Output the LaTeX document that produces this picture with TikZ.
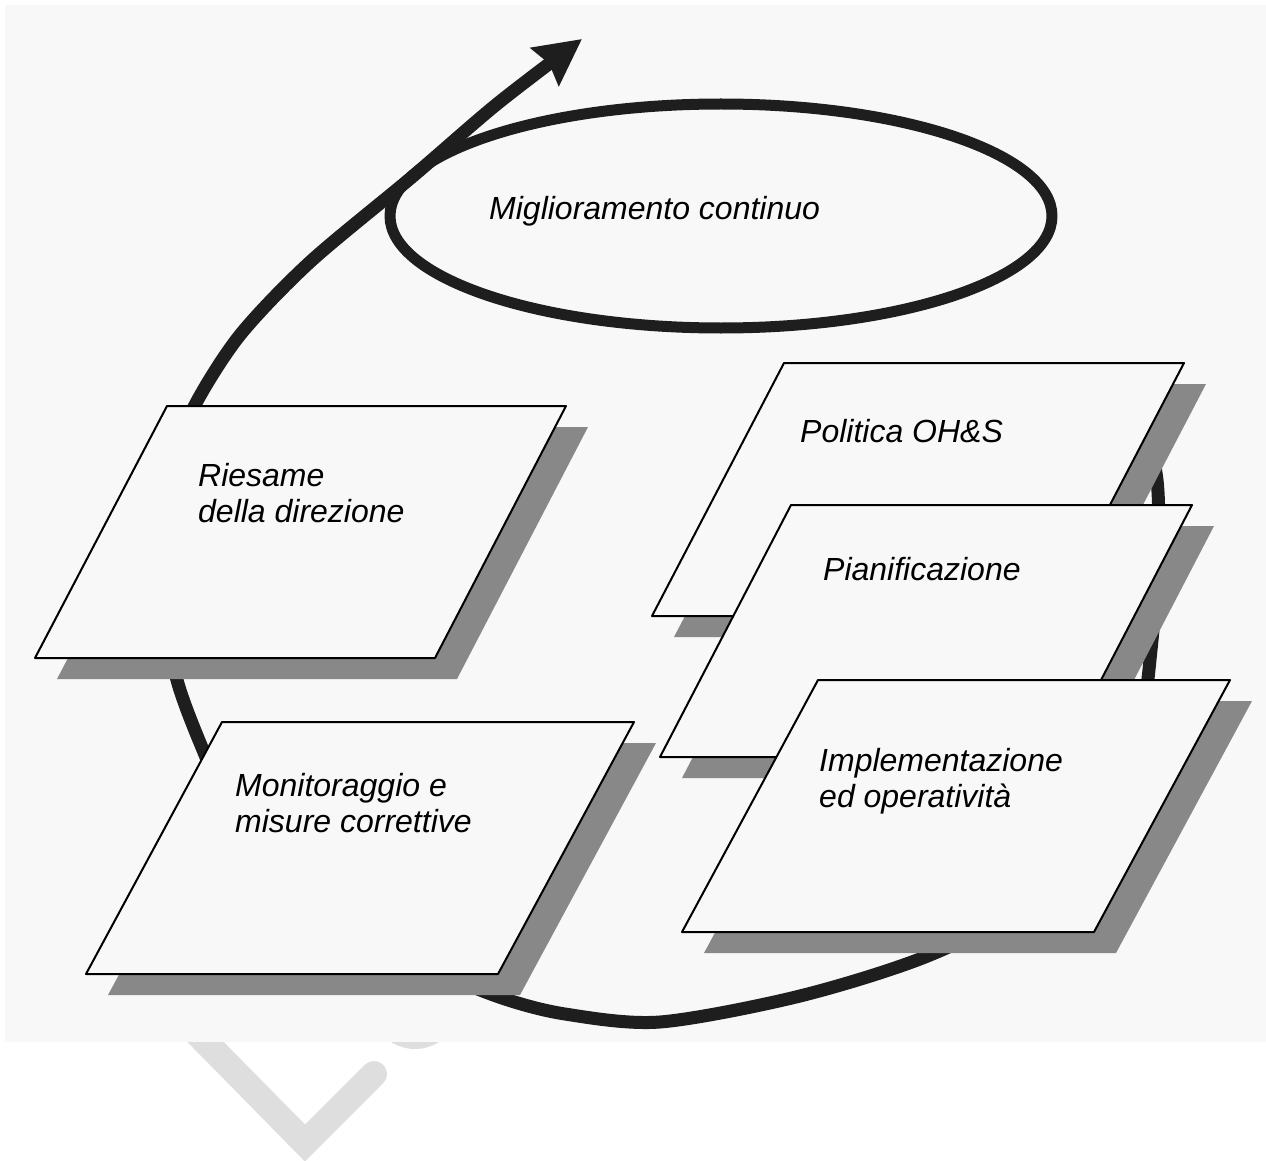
\documentclass[tikz,border=0pt]{standalone}
\usepackage{tikz}
\usetikzlibrary{arrows.meta}
\usepackage{fontspec}
\setmainfont{Liberation Sans}
\definecolor{sfondo}{HTML}{F8F8F8}
\definecolor{grigioombra}{HTML}{888888}
\definecolor{filigrana}{HTML}{DEDEDE}
\definecolor{tratto}{HTML}{1E1E1E}

\begin{document}
\begin{tikzpicture}[x=1pt, y=-1pt, line join=round]  % coordinates in px, y downwards
  \tikzstyle{etichetta}=[inner sep=0pt, anchor=base west, align=left, font=\fontsize{32}{36}\selectfont\itshape]
  \tikzstyle{foglio}=[fill=sfondo, draw=black, line width=2pt,
      preaction={fill=grigioombra, transform canvas={xshift=22pt, yshift=-21pt}}]
  \tikzstyle{ciclo}=[draw=tratto, line width=13pt]
  \useasboundingbox (0,0) rectangle (1266,1161);

  % watermark, mostly under the background
  \draw[filigrana, line width=26pt, line cap=round, line join=miter] (180,1016) -- (305,1143) -- (374,1074);
  \fill[filigrana] (415,1005) circle (44pt);
  \fill[sfondo] (5,5) rectangle (1266,1042);

  % the spiral
  \draw[ciclo, -{Stealth[length=46pt, width=46pt, inset=5pt]}] plot[smooth] coordinates {
      (1140,400) (1157,480) (1158,560) (1151,650) (1140,730) (1110,820) (1045,895) (930,955)
      (800,996) (660,1022) (565,1014) (502,998) (440,972) (360,925) (280,860) (225,795) (203,750)
      (177,680) (163,600) (165,520) (178,455) (195,405) (240,335) (310,262) (412,177)
      (497,104) (582,39)};
  \draw[tratto, line width=11pt] (721,216) ellipse [x radius=331pt, y radius=112pt];
  \node[etichetta] (miglioramento) at (489,219) {Miglioramento continuo};

  % the five sheets
  \draw[foglio] (35,658) -- (167,406) -- (566,406) -- (435,658) -- cycle;
  \draw[foglio] (86,974) -- (222,722) -- (634,722) -- (498,974) -- cycle;
  \draw[foglio] (652,616) -- (784,363) -- (1184,363) -- (1052,616) -- cycle;
  \draw[foglio] (660,757) -- (791,505) -- (1192,505) -- (1061,757) -- cycle;
  \draw[foglio] (682,932) -- (818,680) -- (1230,680) -- (1094,932) -- cycle;

  % base of the last line of each label
  \node[etichetta] (riesame)      at (198,522) {Riesame\\della direzione};
  \node[etichetta] (monitoraggio) at (235,832) {Monitoraggio e\\misure correttive};
  \node[etichetta] (politica)     at (800,442) {Politica OH\&S};
  \node[etichetta] (pianifica)    at (823,580) {Pianificazione};
  \node[etichetta] (implementa)   at (819,807) {Implementazione\\ed operatività};
\end{tikzpicture}
\end{document}
